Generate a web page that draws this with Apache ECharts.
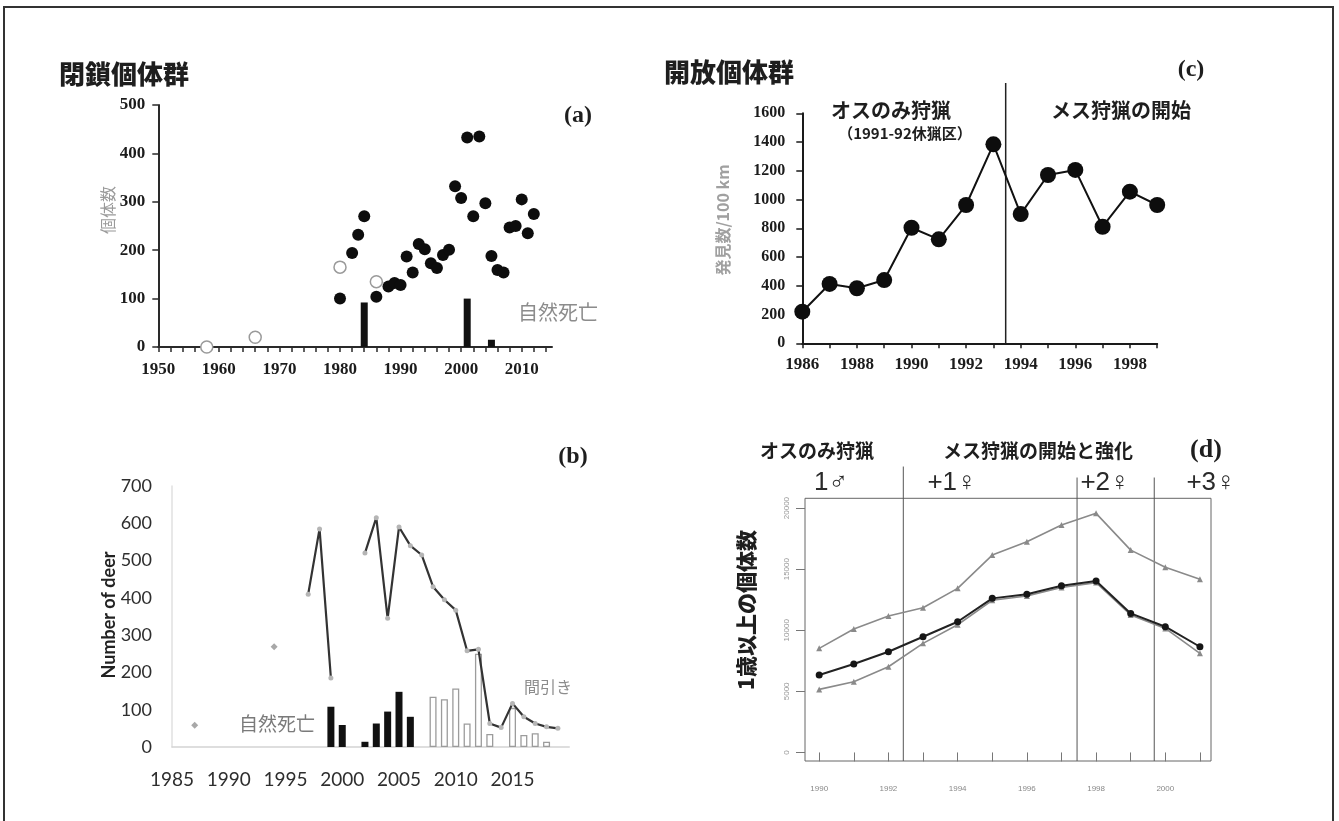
<!DOCTYPE html>
<html>
<head>
<meta charset="utf-8">
<script src="https://cdn.jsdelivr.net/npm/echarts@6/dist/echarts.min.js"></script>
<style>
  html, body { margin: 0; padding: 0; background: #fff; }
  #fig { width: 1339px; height: 821px; }
</style>
</head>
<body>
<div id="fig"></div>
<script>
// ---------- (a) closed population: counts per year ----------
const aTickYears = [1950,1952,1954,1956,1958,1960,1962,1964,1966,1968,1970,1972,1974,1976,1978,
                    1980,1982,1984,1986,1988,1990,1992,1994,1996,1998,2000,2002,2004,2006,2008,2010,2012,2014];
const aLabelYears = [1950,1960,1970,1980,1990,2000,2010];
const aCountYears = [1980,1982,1983,1984,1986,1988,1989,1990,1991,1992,1993,1994,1995,1996,1997,
                     1998,1999,2000,2001,2002,2003,2004,2005,2006,2007,2008,2009,2010,2011,2012];
const aCounts     = [100,194,232,270,104,125,132,128,187,154,213,202,173,163,190,
                     201,332,308,433,270,435,297,188,159,154,247,250,305,235,275];
const aOpenYears  = [1958,1966,1980,1986];
const aOpenCounts = [0,20,165,135];
const aDeathYears = [1984,2001,2005];
const aDeaths     = [92,100,15];

// ---------- (b) number of deer, natural deaths and culls ----------
const bLabelYears = [1985,1990,1995,2000,2005,2010,2015];
const bLineYears  = [1997,1998,1999,2000,2001,2002,2003,2004,2005,2006,2007,2008,
                     2009,2010,2011,2012,2013,2014,2015,2016,2017,2018,2019];
const bDeer       = [410,585,185,null,null,520,615,345,590,540,515,430,
                     395,367,258,262,63,52,117,81,63,54,50];
const bEarlyYears = [1987,1994];
const bEarlyDeer  = [58,269];
const bNaturalYears  = [1999,2000,2002,2003,2004,2005,2006];
const bNaturalDeaths = [108,59,14,63,95,148,81];
const bCullYears  = [2008,2009,2010,2011,2012,2013,2015,2016,2017,2018];
const bCulls      = [135,128,157,63,250,35,105,32,37,14];

// ---------- (c) open population: sightings per 100 km ----------
const cYears      = [1986,1987,1988,1989,1990,1991,1992,1993,1994,1995,1996,1997,1998,1999];
const cLabelYears = [1986,1988,1990,1992,1994,1996,1998];
const cSightings  = [220,413,383,440,804,723,962,1384,899,1171,1206,811,1055,962];
const cFemaleHuntStart = 1993.45;
const cDividerTop = 1811;

// ---------- (d) deer aged 1+ under increasing female harvest ----------
const dYears      = [1990,1991,1992,1993,1994,1995,1996,1997,1998,1999,2000,2001];
const dLabelYears = [1990,1992,1994,1996,1998,2000];
const dYTicks     = [0,5000,10000,15000,20000];
const dUpper      = [8520,10100,11160,11840,13430,16150,17240,18610,19570,16560,15150,14170];
const dMiddle     = [6335,7235,8240,9470,10700,12610,12940,13640,14030,11380,10290,8650];
const dLower      = [5160,5790,7015,8930,10450,12450,12800,13500,13900,11250,10150,8110];
const dPhaseYears = [1992.43,1997.45,1999.68];
const dPhaseTops  = [23400,22500,22500];
const dFloor = -700;

const pair = (xs, ys) => xs.map((x, i) => [x, ys[i]]);
const plain = v => String(v);

const SERIF = '"Liberation Serif", "DejaVu Serif", serif';
const CJK = '"Noto Sans CJK JP", "Noto Sans CJK SC", sans-serif';
const SANS_B = 'Lato, "Open Sans", sans-serif';
const serifLabel = { fontFamily: SERIF, fontWeight: 'bold', fontSize: 17, color: '#1c1c1c', formatter: plain };

function grid(left, top, width, height, extra) {
  return Object.assign({ left, top, width, height, containLabel: false, outerBoundsMode: 'none' }, extra || {});
}

function text(x, y, str, font, fill, extra) {
  return Object.assign({
    type: 'text', x, y, silent: true,
    style: { text: str, font, fill, align: 'center', verticalAlign: 'middle' }
  }, extra || {});
}

const chart = echarts.init(document.getElementById('fig'), null, { width: 1339, height: 821 });

const option = {
  animation: false,
  backgroundColor: '#ffffff',
  grid: [
    grid(158.3, 105, 393.7, 242),
    grid(172, 486, 397.25, 261),
    grid(802.3, 113.3, 354.9, 230),
    grid(805, 498.3, 406, 262.7, { show: true, borderColor: '#666', borderWidth: 1, backgroundColor: 'transparent' })
  ],
  xAxis: [
    { type: 'value', gridIndex: 0, min: 1950, max: 2015,
      axisLine: { show: true, lineStyle: { color: '#2a2a2a', width: 2 } },
      axisTick: { show: true, customValues: aTickYears, length: 5, lineStyle: { color: '#2a2a2a', width: 1.5 } },
      axisLabel: Object.assign({ customValues: aLabelYears, margin: 14 }, serifLabel),
      splitLine: { show: false } },
    { type: 'value', gridIndex: 1, min: 1985, max: 2020, interval: 5,
      axisLine: { show: true, lineStyle: { color: '#d4d4d4', width: 1.5 } },
      axisTick: { show: false },
      axisLabel: { customValues: bLabelYears, margin: 23, fontFamily: SANS_B,
                   fontSize: 19, color: '#2e2e2e', formatter: plain },
      splitLine: { show: false } },
    { type: 'value', gridIndex: 2, min: 1986, max: 1999, interval: 1,
      axisLine: { show: true, lineStyle: { color: '#1a1a1a', width: 2 } },
      axisTick: { show: true, length: 5, lineStyle: { color: '#1a1a1a', width: 1.5 } },
      axisLabel: Object.assign({ customValues: cLabelYears, margin: 13 }, serifLabel),
      splitLine: { show: false } },
    { type: 'value', gridIndex: 3, min: 1989.59, max: 2001.32,
      axisLine: { show: false },
      axisTick: { show: true, customValues: dYears, length: 9, lineStyle: { color: '#777', width: 1 } },
      axisLabel: { customValues: dLabelYears, margin: 24, fontSize: 8, color: '#888',
                   fontFamily: '"Liberation Sans", sans-serif', formatter: plain },
      splitLine: { show: false } }
  ],
  yAxis: [
    { type: 'value', gridIndex: 0, min: 0, max: 500, interval: 100,
      axisLine: { show: true, lineStyle: { color: '#2a2a2a', width: 2 } },
      axisTick: { show: true, length: 6, lineStyle: { color: '#2a2a2a', width: 1.5 } },
      axisLabel: Object.assign({ margin: 13 }, serifLabel),
      splitLine: { show: false } },
    { type: 'value', gridIndex: 1, min: 0, max: 700, interval: 100,
      axisLine: { show: true, lineStyle: { color: '#e0e0e0', width: 1.5 } },
      axisTick: { show: false },
      axisLabel: { margin: 20, fontFamily: SANS_B, fontSize: 18, color: '#2e2e2e', formatter: plain },
      splitLine: { show: false } },
    { type: 'value', gridIndex: 2, min: 0, max: 1600, interval: 200,
      axisLine: { show: true, lineStyle: { color: '#1a1a1a', width: 2 } },
      axisTick: { show: true, length: 6, lineStyle: { color: '#1a1a1a', width: 1.5 } },
      axisLabel: Object.assign({}, serifLabel, { margin: 17, fontSize: 16 }),
      splitLine: { show: false } },
    { type: 'value', gridIndex: 3, min: -700, max: 20800,
      axisLine: { show: false },
      axisTick: { show: true, customValues: dYTicks, length: 9, lineStyle: { color: '#777', width: 1 } },
      axisLabel: { customValues: dYTicks, rotate: 90, margin: 14, fontSize: 8, color: '#999',
                   fontFamily: '"Liberation Sans", sans-serif', formatter: plain },
      splitLine: { show: false } }
  ],
  series: [
    // (a)
    { type: 'bar', xAxisIndex: 0, yAxisIndex: 0, barWidth: 7, data: pair(aDeathYears, aDeaths),
      itemStyle: { color: '#111' }, z: 2 },
    { type: 'scatter', xAxisIndex: 0, yAxisIndex: 0, symbolSize: 12, data: pair(aOpenYears, aOpenCounts),
      itemStyle: { color: '#fff', borderColor: '#9a9a9a', borderWidth: 1.5, opacity: 1 }, z: 3 },
    { type: 'scatter', xAxisIndex: 0, yAxisIndex: 0, symbolSize: 12, data: pair(aCountYears, aCounts),
      itemStyle: { color: '#0d0d0d', opacity: 1 }, z: 4 },

    // (b)
    { type: 'bar', xAxisIndex: 1, yAxisIndex: 1, barWidth: 7, barGap: '-100%',
      data: pair(bNaturalYears, bNaturalDeaths), itemStyle: { color: '#111' }, z: 2 },
    { type: 'bar', xAxisIndex: 1, yAxisIndex: 1, barWidth: 7, barGap: '-100%',
      data: pair(bCullYears, bCulls),
      itemStyle: { color: '#fff', borderColor: '#9c9c9c', borderWidth: 1.3 }, z: 2 },
    { type: 'line', xAxisIndex: 1, yAxisIndex: 1, data: pair(bLineYears, bDeer), connectNulls: false,
      symbol: 'circle', symbolSize: 5, showSymbol: true,
      lineStyle: { color: '#333', width: 2.2 }, itemStyle: { color: '#b5b5b5' }, z: 4 },
    { type: 'scatter', xAxisIndex: 1, yAxisIndex: 1, data: pair(bEarlyYears, bEarlyDeer),
      symbol: 'diamond', symbolSize: 7, itemStyle: { color: '#a8a8a8', opacity: 1 }, z: 4 },

    // (c)
    { type: 'line', xAxisIndex: 2, yAxisIndex: 2, data: pair(cYears, cSightings),
      symbol: 'circle', symbolSize: 16, showSymbol: true,
      lineStyle: { color: '#111', width: 2 }, itemStyle: { color: '#0d0d0d' }, z: 4 },
    { type: 'line', xAxisIndex: 2, yAxisIndex: 2, clip: false, silent: true, symbol: 'none',
      data: [[cFemaleHuntStart, 0], [cFemaleHuntStart, cDividerTop]],
      lineStyle: { color: '#222', width: 1.5 }, z: 3 },

    // (d)
    { type: 'line', xAxisIndex: 3, yAxisIndex: 3, data: pair(dYears, dUpper),
      symbol: 'triangle', symbolSize: 6, lineStyle: { color: '#8a8a8a', width: 1.6 },
      itemStyle: { color: '#8a8a8a' }, z: 3 },
    { type: 'line', xAxisIndex: 3, yAxisIndex: 3, data: pair(dYears, dLower),
      symbol: 'triangle', symbolSize: 6, lineStyle: { color: '#8a8a8a', width: 1.6 },
      itemStyle: { color: '#8a8a8a' }, z: 3 },
    { type: 'line', xAxisIndex: 3, yAxisIndex: 3, data: pair(dYears, dMiddle),
      symbol: 'circle', symbolSize: 7, lineStyle: { color: '#222', width: 2 },
      itemStyle: { color: '#161616' }, z: 4 },
    ...dPhaseYears.map((yr, i) => ({
      type: 'line', xAxisIndex: 3, yAxisIndex: 3, clip: false, silent: true, symbol: 'none',
      data: [[yr, dFloor], [yr, dPhaseTops[i]]],
      lineStyle: { color: '#555', width: 1 }, z: 2
    }))
  ],
  graphic: [
    // outer frame
    { type: 'rect', silent: true, z: -1,
      shape: { x: 4, y: 7, width: 1329, height: 830 },
      style: { fill: 'none', stroke: '#333', lineWidth: 2 } },

    // headings
    text(124, 74, '閉鎖個体群', `900 26px ${CJK}`, '#1e1e1e'),
    text(729, 72, '開放個体群', `900 26px ${CJK}`, '#1e1e1e'),

    // (a)
    text(578, 116, '(a)', `bold 24px ${SERIF}`, '#1e1e1e'),
    text(558, 312, '自然死亡', `20px ${CJK}`, '#8c8c8c'),
    text(108, 210, '個体数', `16px ${CJK}`, '#9a9a9a', { rotation: Math.PI / 2 }),

    // (b)
    text(573, 457, '(b)', `bold 24px ${SERIF}`, '#1e1e1e'),
    text(277, 724, '自然死亡', `19px ${CJK}`, '#7a7a7a'),
    text(548, 687, '間引き', `16px ${CJK}`, '#8c8c8c'),
    text(109, 615, 'Number of deer', `bold 18px ${SANS_B}`, '#222', { rotation: Math.PI / 2 }),

    // (c)
    text(1191, 70, '(c)', `bold 24px ${SERIF}`, '#1e1e1e'),
    text(891, 110, 'オスのみ狩猟', `bold 20px ${CJK}`, '#1e1e1e'),
    text(905, 133, '（1991-92休猟区）', `bold 15px ${CJK}`, '#1e1e1e'),
    text(1121, 110, 'メス狩猟の開始', `bold 20px ${CJK}`, '#1e1e1e'),
    text(723, 220, '発見数/100 km', `bold 16px ${CJK}`, '#a0a0a0', { rotation: Math.PI / 2 }),

    // (d)
    text(1206, 450, '(d)', `bold 26px ${SERIF}`, '#1e1e1e'),
    text(817, 451, 'オスのみ狩猟', `bold 19px ${CJK}`, '#1e1e1e'),
    text(1038, 451, 'メス狩猟の開始と強化', `bold 19px ${CJK}`, '#1e1e1e'),
    text(831, 483, '1♂', `26px "Liberation Sans", "DejaVu Sans", sans-serif`, '#2a2a2a'),
    text(952, 483, '+1♀', `26px "Liberation Sans", "DejaVu Sans", sans-serif`, '#2a2a2a'),
    text(1105, 483, '+2♀', `26px "Liberation Sans", "DejaVu Sans", sans-serif`, '#2a2a2a'),
    text(1211, 483, '+3♀', `26px "Liberation Sans", "DejaVu Sans", sans-serif`, '#2a2a2a'),
    text(746, 610, '1歳以上の個体数', `900 21px ${CJK}`, '#1e1e1e', { rotation: Math.PI / 2 })
  ]
};

chart.setOption(option);
</script>
</body>
</html>
